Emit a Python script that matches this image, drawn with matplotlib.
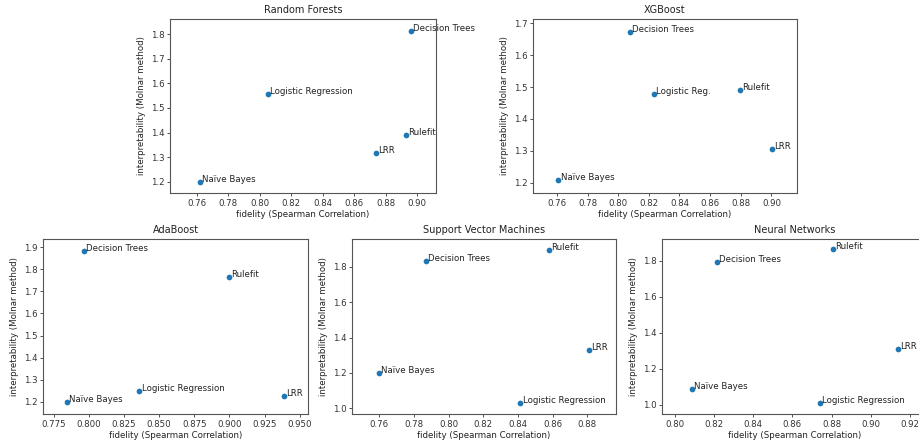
import matplotlib
matplotlib.use('Agg')
import matplotlib.pyplot as plt

# values
names = ['Naïve Bayes', 'Logistic Regression', 'Decision Trees', 'Rulefit', 'LRR']

rf_fid = [0.762, 0.805, 0.896, 0.893, 0.874]
rf_int = [1.200, 1.557, 1.815, 1.390, 1.315]

xgb_names = ['Naïve Bayes', 'Logistic Reg.', 'Decision Trees', 'Rulefit', 'LRR']
xgb_fid = [0.761, 0.8235, 0.8078, 0.8796, 0.9005]
xgb_int = [1.209, 1.477, 1.674, 1.4895, 1.307]

ada_fid = [0.7847, 0.836, 0.7968, 0.8999, 0.9386]
ada_int = [1.197, 1.250, 1.882, 1.767, 1.227]

svm_fid = [0.760, 0.8414, 0.7869, 0.8579, 0.8808]
svm_int = [1.201, 1.028, 1.834, 1.897, 1.332]

nn_fid = [0.8088, 0.8742, 0.8217, 0.8807, 0.9137]
nn_int = [1.089, 1.011, 1.796, 1.863, 1.311]

W, H = 920, 443
FS = 6.2

plt.rcParams['font.size'] = FS
plt.rcParams['axes.edgecolor'] = '#555555'
plt.rcParams['axes.linewidth'] = 0.8
plt.rcParams['xtick.major.size'] = 2.2
plt.rcParams['ytick.major.size'] = 2.2
plt.rcParams['xtick.major.width'] = 0.6
plt.rcParams['ytick.major.width'] = 0.6
plt.rcParams['xtick.color'] = '#333333'
plt.rcParams['ytick.color'] = '#333333'
plt.rcParams['xtick.labelsize'] = FS
plt.rcParams['ytick.labelsize'] = FS
plt.rcParams['axes.labelsize'] = FS
plt.rcParams['axes.labelcolor'] = '#222222'
plt.rcParams['text.color'] = '#222222'

fig = plt.figure(figsize=(W / 100, H / 100), dpi=100)


def make_ax(left, right, top, bottom):
    return fig.add_axes([left / W, (H - bottom) / H, (right - left) / W, (bottom - top) / H])


def draw(ax, title, fid, inter, labels, xlim, ylim):
    ax.scatter(fid, inter, s=17, color='#1f77b4', linewidths=0, zorder=3)
    for i in range(len(labels)):
        ax.annotate(labels[i], (fid[i], inter[i]), xytext=(1.5, 0), textcoords='offset points')
    ax.set_xlim(xlim)
    ax.set_ylim(ylim)
    ax.set_title(title, fontsize=FS * 1.13, pad=4)
    ax.set_xlabel('fidelity (Spearman Correlation)', labelpad=1.5)
    ax.set_ylabel('interpretability (Molnar method)', labelpad=3)
    ax.tick_params(pad=2)


ax1 = make_ax(170, 436, 19, 193)
draw(ax1, 'Random Forests', rf_fid, rf_int, names, (0.743, 0.912), (1.154, 1.862))

ax2 = make_ax(533, 797, 19, 193)
draw(ax2, 'XGBoost', xgb_fid, xgb_int, xgb_names, (0.7444, 0.9167), (1.168, 1.7135))

ax3 = make_ax(43, 308, 239, 414)
draw(ax3, 'AdaBoost', ada_fid, ada_int, names, (0.7674, 0.9559), (1.144, 1.938))

ax4 = make_ax(352, 616, 239, 414)
draw(ax4, 'Support Vector Machines', svm_fid, svm_int, names, (0.7443, 0.8965), (0.968, 1.957))

ax5 = make_ax(662, 927, 239, 414)
draw(ax5, 'Neural Networks', nn_fid, nn_int, names, (0.7935, 0.9287), (0.950, 1.921))

fig.savefig('out.png', dpi=100)
